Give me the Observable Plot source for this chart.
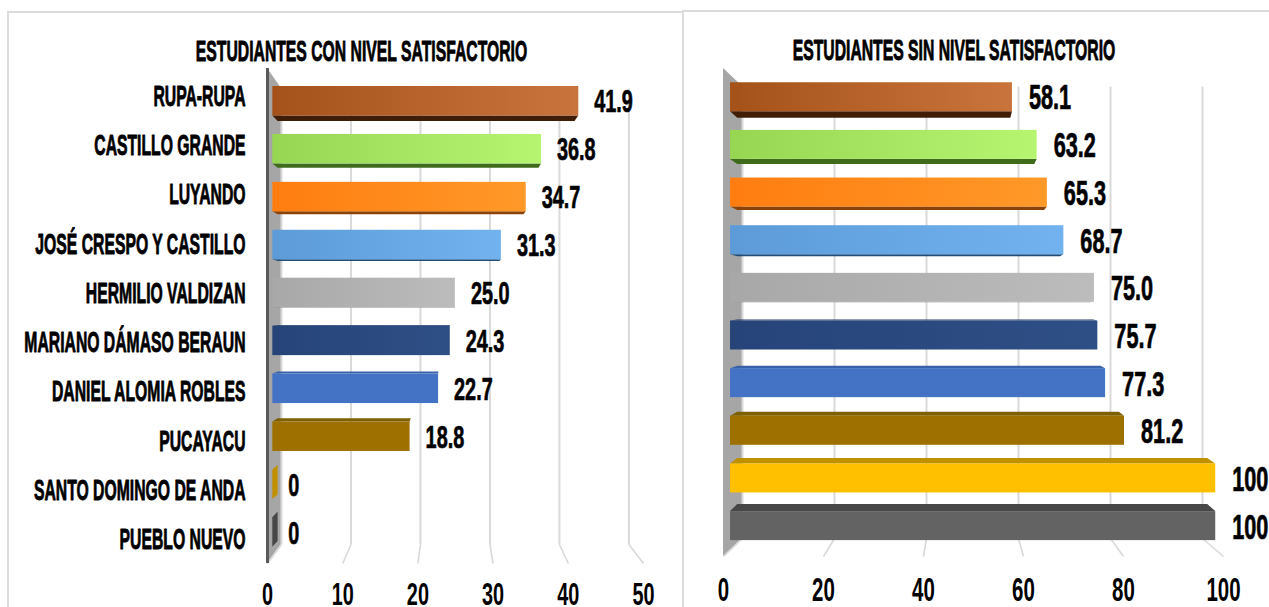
<!DOCTYPE html>
<html>
<head>
<meta charset="utf-8">
<script src="https://cdn.jsdelivr.net/npm/d3@7"></script>
<script src="https://cdn.jsdelivr.net/npm/@observablehq/plot@0.6"></script>
<style>
html,body{margin:0;padding:0;background:#fff;overflow:hidden;width:1269px;height:607px}
.card{position:absolute;box-sizing:border-box;border:2px solid #dcdcdc;border-right:none;border-bottom:none;background:#fff;overflow:visible}
.card svg{position:absolute;overflow:visible}
</style>
</head>
<body>
<script>
// ---- data ----
const categories = ["RUPA-RUPA","CASTILLO GRANDE","LUYANDO","JOSÉ CRESPO Y CASTILLO","HERMILIO VALDIZAN","MARIANO DÁMASO BERAUN","DANIEL ALOMIA ROBLES","PUCAYACU","SANTO DOMINGO DE ANDA","PUEBLO NUEVO"];
const conNivel = [41.9,36.8,34.7,31.3,25.0,24.3,22.7,18.8,0,0];
const sinNivel = [58.1,63.2,65.3,68.7,75.0,75.7,77.3,81.2,100,100];
const ticksCon = [0,10,20,30,40,50];
const ticksSin = [0,20,40,60,80,100];
// ---- palette ----
const faceStart = ["#a5521a","#96d653","#ff7d10","#5c9bd8","#a8a8a8","#264478","#4472c4","#9e7000","#ffc000","#636363"];
const faceEnd   = ["#c9743c","#b6f570","#ff9928","#72b3ef","#bcbcbc","#2e4f86","#4472c4","#9e7000","#ffc000","#636363"];
const sideColor = ["#3f1d06","#3f6b1c","#8a4208","#1f4e79","#8c8c8c","#1f3864","#3a62a8","#7f6000","#bf9000","#474747"];

const FONT = "'Liberation Sans Narrow','Liberation Sans',sans-serif";
const SQUEEZE_DIGITS = 0.62, SQUEEZE_LETTERS = 0.525;

function fmt(v){ return (v===0||v===100) ? String(v) : v.toFixed(1); }

function panel(cfg){
  const {id,values,ticks,showCategories} = cfg;
  const pageH = 607, W = cfg.width;
  // perspective: t = 0 front plane, t = 1 back wall
  const X = (v,t) => v*(1-cfg.shrink*t) + cfg.offset*t;
  const PX = d3.scaleLinear().domain(cfg.xRange).range(cfg.xDomain); // layout pixels -> x units
  const Y = p => (p - cfg.row0)/cfg.rowH;      // page pixels -> row units
  const T0 = cfg.barPlane, T1 = cfg.barPlane + 0.38;
  const faceH = cfg.faceH/cfg.rowH;
  const rows = values.map((v,i)=>{
    const relief = (cfg.relief0 + cfg.reliefStep*i)/cfg.rowH;
    const c = i - relief/2;
    return {i,v,relief,top:c-faceH/2,bot:c+faceH/2,name:categories[i]};
  });
  const stripPts = rows.flatMap(r=>{
    const edge = r.relief>=0 ? r.bot : r.top;
    return [{i:r.i,y:edge,a:X(0,T0),b:X(r.v,T0)},{i:r.i,y:edge+r.relief,a:X(0,T1),b:X(r.v,T1)}];
  });
  const zeroPts = rows.filter(r=>r.v===0).flatMap(r=>[
    {i:r.i,x:X(0,T0),y1:r.top,y2:r.bot},
    {i:r.i,x:X(0,T1),y1:r.top+r.relief,y2:r.bot+r.relief}]);
  const wall = [{x:X(0,0),y1:Y(cfg.wallTop[0]),y2:Y(cfg.wallBot[0])},{x:X(0,1),y1:Y(cfg.wallTop[1]),y2:Y(cfg.wallBot[1])}];
  const marks = [
    Plot.area(wall,{x1:"x",y1:"y1",y2:"y2",fill:()=>"#a6a6a6"}),
    Plot.link(ticks,{x1:d=>X(d,1),x2:d=>X(d,1),y1:()=>Y(cfg.wallTop[1]),y2:()=>Y(cfg.wallBot[1]),stroke:()=>"#d9d9d9",strokeWidth:2}),
    Plot.link(ticks,{x1:d=>X(d,1),x2:d=>X(d,0),y1:()=>Y(cfg.wallBot[1]),y2:()=>Y(cfg.wallBot[0]),stroke:()=>"#d9d9d9",strokeWidth:1.6}),
  ];
  if(cfg.axisLine) marks.push(Plot.ruleX([0],{y1:()=>Y(cfg.wallTop[0]),y2:()=>Y(cfg.wallBot[0]),stroke:()=>"#595959",strokeWidth:3}));
  marks.push(
    Plot.area(stripPts,{y1:"y",x1:"a",x2:"b",z:"i",fill:d=>sideColor[d.i]}),
    Plot.area(zeroPts,{x1:"x",y1:"y1",y2:"y2",z:"i",fill:d=>sideColor[d.i]}),
    Plot.rect(rows.filter(r=>r.v>0),{x1:d=>X(0,T0),x2:d=>X(d.v,T0),y1:"top",y2:"bot",fill:d=>`url(#${id}-g${d.i})`}),
    Plot.text(rows,{x:d=>X(d.v,T0),y:d=>Y(cfg.val0+cfg.valStep*d.i),text:d=>fmt(d.v),dx:cfg.valDx,textAnchor:"start",lineAnchor:"middle",fontSize:cfg.valSize,fontWeight:"bold",fill:"#000",stroke:"#000",strokeWidth:0.7}),
    Plot.axisX({anchor:"bottom",ticks,tickFormat:d=>String(d),tickSize:0,tickPadding:cfg.tickPad,fontSize:cfg.tickSize,fontWeight:"bold",stroke:"#000",strokeWidth:0.7,fill:"#000",label:null,line:false})
  );
  if(showCategories) marks.push(
    Plot.text(rows,{className:"letters",x:()=>PX(cfg.catX),y:d=>Y(cfg.cat0+cfg.catStep*d.i),text:"name",textAnchor:"end",lineAnchor:"middle",fontSize:cfg.catSize,fontWeight:"bold",fill:"#000",stroke:"#000",strokeWidth:0.9})
  );
  marks.push(
    Plot.text([cfg.title],{className:"letters",x:()=>PX(cfg.titleX),y:()=>Y(cfg.titleY),text:d=>d,textAnchor:"middle",lineAnchor:"middle",fontSize:cfg.titleSize,fontWeight:"bold",fill:"#000",stroke:"#000",strokeWidth:0.9})
  );
  const svg = Plot.plot({
    width:W,height:pageH,marginTop:0,marginBottom:0,marginLeft:0,marginRight:0,
    x:{domain:cfg.xDomain,range:cfg.xRange,axis:null},
    y:{domain:[Y(0),Y(pageH)],range:[0,pageH],axis:null},
    color:{type:"identity"},
    style:{fontFamily:FONT,background:"transparent",overflow:"visible",maxWidth:"none"},
    marks
  });
  // gradients for the bar faces
  const defs = d3.select(svg).insert("defs",":first-child");
  faceStart.forEach((c,i)=>{
    const g = defs.append("linearGradient").attr("id",`${id}-g${i}`).attr("x1",0).attr("x2",1).attr("y1",0).attr("y2",0);
    g.append("stop").attr("offset",0).attr("stop-color",c);
    g.append("stop").attr("offset",1).attr("stop-color",faceEnd[i]);
  });
  // narrow the lettering to the poster-style width of the reference
  d3.select(svg).selectAll("text").attr("transform",function(){
    const s = this.closest(".letters") ? SQUEEZE_LETTERS : SQUEEZE_DIGITS;
    return (this.getAttribute("transform")||"")+` scale(${s},1)`;
  });
  return svg;
}

const left = panel({
  id:"con",values:conNivel,ticks:ticksCon,showCategories:true,axisLine:true,width:682,
  xDomain:[0,50],xRange:[267,643],shrink:0.076,offset:1.86,barPlane:0.38,
  row0:103.5,rowH:47.3,faceH:29.5,relief0:5.5,reliefStep:-1.25,
  wallTop:[68,88],wallBot:[563,544],
  val0:101.7,valStep:47.9,valDx:15.5,valSize:32,
  cat0:95.5,catStep:49.3,catX:245,catSize:30,
  tickPad:-25,tickSize:32,
  title:"ESTUDIANTES CON NIVEL SATISFACTORIO",titleX:361,titleY:51,titleSize:30
});
const right = panel({
  id:"sin",values:sinNivel,ticks:ticksSin,showCategories:false,axisLine:false,width:587,
  xDomain:[0,100],xRange:[41,541],shrink:0.08,offset:3.8,barPlane:0.37,
  row0:100,rowH:46.9,faceH:29,relief0:6.5,reliefStep:-1.5,
  wallTop:[68,86],wallBot:[556,538],
  val0:97.7,valStep:47.7,valDx:16.5,valSize:35,
  tickPad:-30,tickSize:33,
  title:"ESTUDIANTES SIN NIVEL SATISFACTORIO",titleX:271.5,titleY:50,titleSize:30
});

const c1 = document.createElement("div"); c1.className="card";
c1.style.cssText="left:7px;top:11px;width:675px;height:596px";
const c2 = document.createElement("div"); c2.className="card";
c2.style.cssText="left:682px;top:10px;width:587px;height:597px";
document.body.append(c1,c2);
left.style.left="-9px"; left.style.top="-13px";
right.style.left="-2px"; right.style.top="-12px";
c1.append(left); c2.append(right);
</script>
</body>
</html>
